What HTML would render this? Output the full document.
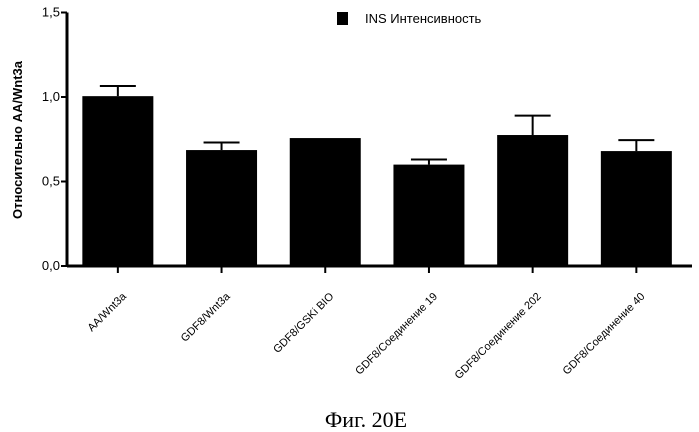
<!DOCTYPE html>
<html><head><meta charset="utf-8"><style>
html,body{margin:0;padding:0;background:#fff;width:699px;height:432px;overflow:hidden}
svg{display:block}
</style></head><body>
<svg id="chart" width="699" height="432" viewBox="0 0 699 432" xmlns="http://www.w3.org/2000/svg" font-family="Liberation Sans, sans-serif">
<g id="plot"></g>
<rect x="337" y="12" width="11" height="13" fill="#000"/>
<text x="365" y="23" font-size="13">INS Интенсивность</text>
<text transform="translate(22,140) rotate(-90)" text-anchor="middle" font-size="13" font-weight="bold">Относительно AA/Wnt3a</text>
<text x="366" y="427" text-anchor="middle" font-family="Liberation Serif, serif" font-size="22">Фиг. 20E</text>
</svg>
<script>
const categories = ["AA/Wnt3a","GDF8/Wnt3a","GDF8/GSKi BIO","GDF8/Соединение 19","GDF8/Соединение 202","GDF8/Соединение 40"];
const values = [1.005, 0.686, 0.757, 0.60, 0.775, 0.68];
const errors = [0.06, 0.045, 0, 0.03, 0.115, 0.065];
const yTicks = [0, 0.5, 1.0, 1.5];
const yTickLabels = ["0,0","0,5","1,0","1,5"];

const NS = "http://www.w3.org/2000/svg";
const g = document.getElementById("plot");
const x0 = 67, xEnd = 692, yBase = 266, yTop = 12.5, yMax = 1.5;
const bandStart = 66, band = 103.7, barW = 71;
function y(v){ return yBase - (v / yMax) * (yBase - yTop); }
function xc(i){ return bandStart + band * (i + 0.5); }
function mk(tag, attrs){ const e = document.createElementNS(NS, tag); for (const k in attrs) e.setAttribute(k, attrs[k]); g.appendChild(e); return e; }

categories.forEach((c, i) => {
  const b = mk("rect", {x: xc(i) - barW/2, y: y(values[i]), width: barW, height: yBase - y(values[i]), fill: "#000"});
  
  
  if (errors[i] > 0) {
    const top = y(values[i] + errors[i]);
    const e1 = mk("line", {x1: xc(i), x2: xc(i), y1: y(values[i]), y2: top, stroke: "#000", "stroke-width": 2});
    
    
    const e2 = mk("line", {x1: xc(i) - 18, x2: xc(i) + 18, y1: top, y2: top, stroke: "#000", "stroke-width": 2});
    
    
  }
  const t = mk("line", {x1: xc(i), x2: xc(i), y1: yBase, y2: yBase + 7, stroke: "#000", "stroke-width": 2});
  
  
  const lx = xc(i) + 9, ly = 297;
  const l = mk("text", {x: lx, y: ly, transform: "rotate(-45 " + lx + " " + ly + ")", "text-anchor": "end", "font-size": 11});
  l.textContent = c;
  
  
});

yTicks.forEach((v, i) => {
  const t = mk("line", {x1: x0 - 6, x2: x0, y1: y(v), y2: y(v), stroke: "#000", "stroke-width": 2});
  
  
  const l = mk("text", {x: x0 - 7, y: y(v) + 4, "text-anchor": "end", "font-size": 13});
  l.textContent = yTickLabels[i];
  
  
});

const ya = mk("line", {x1: x0, x2: x0, y1: yTop, y2: yBase + 1, stroke: "#000", "stroke-width": 3});


const xa = mk("line", {x1: x0, x2: xEnd, y1: yBase, y2: yBase, stroke: "#000", "stroke-width": 3});


</script>
</body></html>
